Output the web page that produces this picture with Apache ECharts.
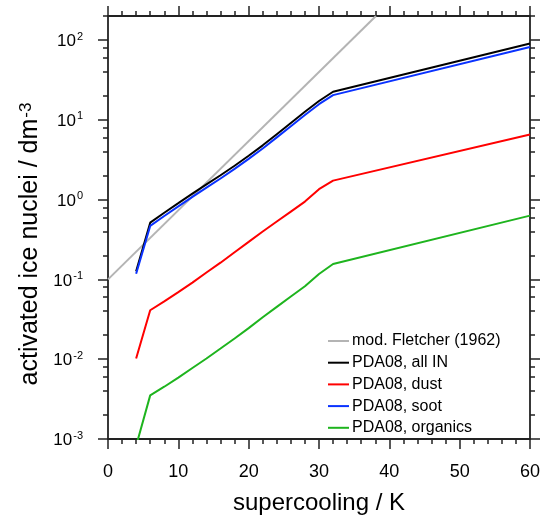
<!DOCTYPE html>
<html>
<head>
<meta charset="utf-8">
<script src="https://cdn.jsdelivr.net/npm/echarts@6/dist/echarts.min.js"></script>
<style>html,body{margin:0;padding:0;background:#fff;}#c{width:545px;height:521px;}</style>
</head>
<body>
<div id="c"></div>
<script>
// ---- data ----
const fletcherX = [0, 38.1];
const fletcherY = [0.1, 200];

const supercooling = [4, 6, 8, 10, 12, 14, 16, 18, 20, 22, 24, 26, 28, 30, 32, 60];
const allIN    = [0.126, 0.514, 0.684, 0.902, 1.19, 1.55, 2.02, 2.66, 3.55, 4.79, 6.61, 9.12, 12.6, 17.2, 22.5, 90.4];
const dust     = [0.0102, 0.0411, 0.0531, 0.0692, 0.0912, 0.122, 0.162, 0.219, 0.295, 0.398, 0.531, 0.708, 0.944, 1.35, 1.73, 6.56];
const soot     = [0.118, 0.468, 0.624, 0.822, 1.08, 1.41, 1.84, 2.43, 3.24, 4.37, 6.03, 8.32, 11.5, 15.7, 20.4, 81.9];
const organics = [0.00082, 0.00352, 0.00452, 0.00589, 0.00776, 0.0102, 0.0136, 0.0182, 0.0245, 0.0335, 0.0452, 0.0610, 0.0822, 0.117, 0.156, 0.63];

const yMajorTicks = [0.001, 0.01, 0.1, 1, 10, 100];
const yMinorTicks = [0.002, 0.004, 0.006, 0.008, 0.02, 0.04, 0.06, 0.08, 0.2, 0.4, 0.6, 0.8,
                     2, 4, 6, 8, 20, 40, 60, 80, 200];
const seriesNames = ['mod. Fletcher (1962)', 'PDA08, all IN', 'PDA08, dust', 'PDA08, soot', 'PDA08, organics'];
const seriesColors = ['#b4b4b4', '#000000', '#ff0000', '#0a32ff', '#1eb41e'];

// ---- chart ----
const FONT = 'Liberation Sans, Arial, Helvetica, sans-serif';
const AXIS_COLOR = '#222';
const pairs = (xs, ys) => xs.map((x, i) => [x, ys[i]]);

const xBase = (pos) => ({
  type: 'value', position: pos, min: 0, max: 60, interval: 10,
  axisLine: { show: true, onZero: false, lineStyle: { color: AXIS_COLOR, width: 1.8 } },
  axisTick: { show: true, length: 10, lineStyle: { color: AXIS_COLOR, width: 1.5 } },
  minorTick: { show: true, splitNumber: 5, length: 5, lineStyle: { color: AXIS_COLOR, width: 1.5 } },
  splitLine: { show: false }, minorSplitLine: { show: false }
});

const yBase = (pos, ticks, len, showLine) => ({
  type: 'log', logBase: 10, position: pos, min: 0.001, max: 200,
  axisLine: { show: showLine, onZero: false, lineStyle: { color: AXIS_COLOR, width: 1.8 } },
  axisTick: { show: true, customValues: ticks, length: len, lineStyle: { color: AXIS_COLOR, width: 1.5 } },
  axisLabel: { show: false },
  splitLine: { show: false }
});

const yMainLeft = yBase('left', yMajorTicks, 10, true);
yMainLeft.axisLabel = {
  show: true, customValues: yMajorTicks, margin: 25,
  formatter: (v) => '{b|10}{s|' + Math.round(Math.log10(v)) + '}',
  rich: {
    b: { fontSize: 17, fontFamily: FONT, color: '#000', lineHeight: 20, verticalAlign: 'bottom' },
    s: { fontSize: 11, fontFamily: FONT, color: '#000', lineHeight: 11, verticalAlign: 'top', padding: [1, 0, 0, 1] }
  }
};
yMainLeft.name = 'activated ice nuclei / dm{s|-3}';
yMainLeft.nameLocation = 'middle';
yMainLeft.nameGap = 62;
yMainLeft.nameTextStyle = {
  fontSize: 25, fontFamily: FONT, color: '#000', padding: [0, 33, 0, 0],
  rich: { s: { fontSize: 17, fontFamily: FONT, color: '#000', verticalAlign: 'top', lineHeight: 17, padding: [0, 0, 0, 1] } }
};

const xMain = xBase('bottom');
xMain.axisLabel = { show: true, fontSize: 18, fontFamily: FONT, color: '#000', margin: 24 };
xMain.name = 'supercooling / K';
xMain.nameLocation = 'middle';
xMain.nameGap = 52;
xMain.nameTextStyle = { fontSize: 24, fontFamily: FONT, color: '#000' };
const xTop = xBase('top');
xTop.axisLabel = { show: false };

const option = {
  animation: false,
  backgroundColor: '#fff',
  grid: { left: 108, right: 15, top: 16, bottom: 82, containLabel: false },
  xAxis: [xMain, xTop],
  yAxis: [
    yMainLeft,
    yBase('right', yMajorTicks, 10, true),
    yBase('left', yMinorTicks, 5, false),
    yBase('right', yMinorTicks, 5, false)
  ],
  legend: {
    orient: 'vertical', left: 328, top: 333, icon: 'rect',
    itemWidth: 21, itemHeight: 2, itemGap: 5.7, padding: 0,
    textStyle: { fontSize: 16, lineHeight: 16, fontFamily: FONT, color: '#000', padding: [0, 0, 0, -2] },
    data: seriesNames
  },
  series: [
    { data: pairs(fletcherX, fletcherY) },
    { data: pairs(supercooling, allIN) },
    { data: pairs(supercooling, dust) },
    { data: pairs(supercooling, soot) },
    { data: pairs(supercooling, organics) }
  ].map((s, i) => Object.assign({
    type: 'line', name: seriesNames[i], xAxisIndex: 0, yAxisIndex: 0,
    symbol: 'none', clip: true, smooth: false,
    lineStyle: { color: seriesColors[i], width: 2 },
    itemStyle: { color: seriesColors[i] }
  }, s))
};

const chart = echarts.init(document.getElementById('c'), null, { renderer: 'canvas' });
chart.setOption(option);
</script>
</body>
</html>
